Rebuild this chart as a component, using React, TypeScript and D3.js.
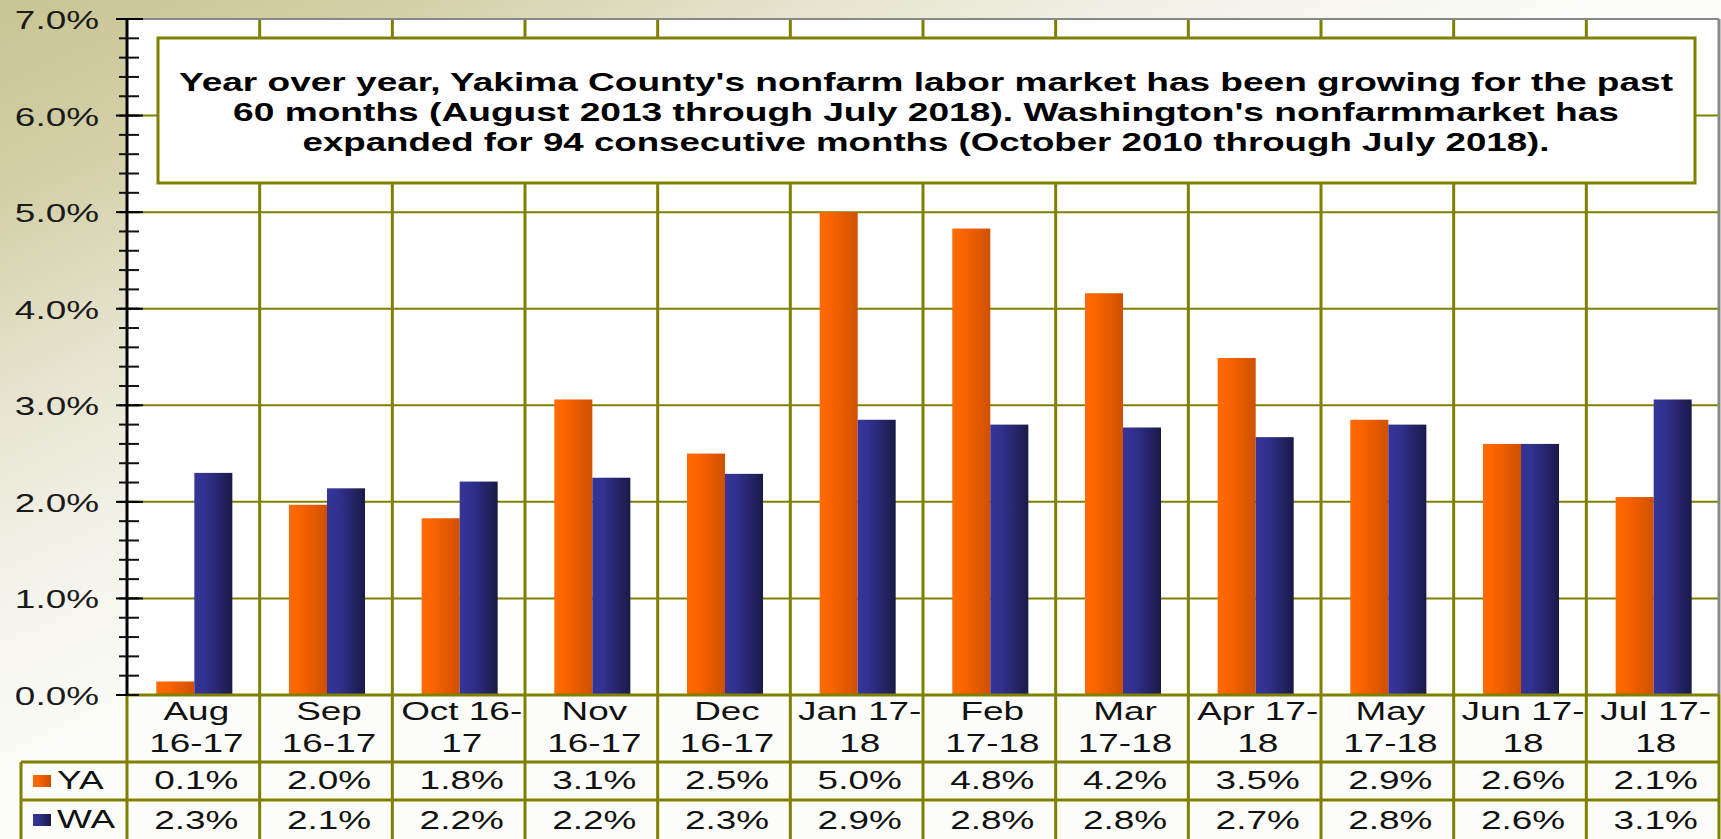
import React from 'react';
import * as d3 from 'd3';

const categories = ['Aug 16-17', 'Sep 16-17', 'Oct 16-17', 'Nov 16-17', 'Dec 16-17', 'Jan 17-18', 'Feb 17-18', 'Mar 17-18', 'Apr 17-18', 'May 17-18', 'Jun 17-18', 'Jul 17-18'];
const categoryLines = [['Aug', '16-17'], ['Sep', '16-17'], ['Oct 16-', '17'], ['Nov', '16-17'], ['Dec', '16-17'], ['Jan 17-', '18'], ['Feb', '17-18'], ['Mar', '17-18'], ['Apr 17-', '18'], ['May', '17-18'], ['Jun 17-', '18'], ['Jul 17-', '18']];
const seriesNames = ['YA', 'WA'];
const yaValues = [0.14, 1.97, 1.83, 3.06, 2.5, 5.0, 4.83, 4.16, 3.49, 2.85, 2.6, 2.05];
const waValues = [2.3, 2.14, 2.21, 2.25, 2.29, 2.85, 2.8, 2.77, 2.67, 2.8, 2.6, 3.06];
const yaLabels = ['0.1%', '2.0%', '1.8%', '3.1%', '2.5%', '5.0%', '4.8%', '4.2%', '3.5%', '2.9%', '2.6%', '2.1%'];
const waLabels = ['2.3%', '2.1%', '2.2%', '2.2%', '2.3%', '2.9%', '2.8%', '2.8%', '2.7%', '2.8%', '2.6%', '3.1%'];
const yTicks = [0, 1, 2, 3, 4, 5, 6, 7];
const titleLines = [
  "Year over year, Yakima County's nonfarm labor market has been growing for the past",
  "60 months (August 2013 through July 2018). Washington's nonfarmmarket has",
  'expanded for 94 consecutive months (October 2010 through July 2018).',
];
const titleWidths = [1494, 1386, 1247];

const W = 1721;
const H = 839;
const PL = 127;
const PR = 1719;
const PT = 19;
const PB = 695;
const ROW1 = 762;
const ROW2 = 800;
const SX = 1.42;
const FONT = "Arial, 'Liberation Sans', sans-serif";
const OLIVE = '#808000';

const T = ({ x, y, anchor = 'middle', children, size = 26, fill = '#111' }: any) => (
  <text transform={`translate(${x},${y}) scale(${SX},1)`} textAnchor={anchor} fontSize={size} fontFamily={FONT} fill={fill}>
    {children}
  </text>
);

export default function App() {
  const x = d3.scaleBand<string>().domain(categories).range([PL, PR]).paddingInner(0).paddingOuter(0);
  const xs = d3.scaleBand<string>().domain(seriesNames).range([0, x.bandwidth()]).paddingInner(0).paddingOuter(0.745);
  const y = d3.scaleLinear().domain([0, 7]).range([PB, PT]);
  const minor = d3.range(0, 7.0001, 0.2);
  const bounds = d3.range(categories.length + 1).map((i) => PL + i * x.step());
  const series = [
    { name: 'YA', values: yaValues, labels: yaLabels, grad: 'url(#gOrange)' },
    { name: 'WA', values: waValues, labels: waLabels, grad: 'url(#gNavy)' },
  ];

  return (
    <svg width={W} height={H} style={{ position: 'absolute', left: 0, top: 0 }}>
      <defs>
        <linearGradient id="gBg" x1="0" y1="0" x2="1" y2="1">
          <stop offset="0" stopColor="#c8c493" />
          <stop offset="0.12" stopColor="#d3d0a8" />
          <stop offset="0.24" stopColor="#e6e4cf" />
          <stop offset="0.36" stopColor="#f4f3eb" />
          <stop offset="0.46" stopColor="#fbfbf7" />
          <stop offset="1" stopColor="#ffffff" />
        </linearGradient>
        <linearGradient id="gOrange" x1="0" y1="0" x2="1" y2="0">
          <stop offset="0" stopColor="#ff6a00" />
          <stop offset="0.25" stopColor="#fc6500" />
          <stop offset="1" stopColor="#cf5000" />
        </linearGradient>
        <linearGradient id="gNavy" x1="0" y1="0" x2="1" y2="0">
          <stop offset="0" stopColor="#353599" />
          <stop offset="0.3" stopColor="#31318f" />
          <stop offset="1" stopColor="#1a1a48" />
        </linearGradient>
      </defs>

      <rect x={0} y={0} width={W} height={H} fill="url(#gBg)" />
      <rect x={PL} y={PT} width={PR - PL} height={PB - PT} fill="#ffffff" />
      <rect x={PL} y={PB} width={PR - PL} height={H - PB} fill="#fcfcf8" />
      <rect x={21} y={ROW1} width={PL - 21} height={H - ROW1} fill="#fcfcf8" />

      {/* horizontal gridlines */}
      {yTicks.filter((t) => t > 0 && t < 7).map((t) => (
        <line key={'h' + t} x1={PL} x2={PR} y1={y(t)} y2={y(t)} stroke={OLIVE} strokeWidth={2} />
      ))}
      {/* vertical gridlines */}
      {bounds.slice(1, -1).map((b, i) => (
        <line key={'v' + i} x1={b} x2={b} y1={PT} y2={H} stroke={OLIVE} strokeWidth={3} />
      ))}

      {/* plot border */}
      <line x1={PL} x2={PR} y1={PT} y2={PT} stroke="#888888" strokeWidth={2} />
      <line x1={PR} x2={PR} y1={PT} y2={PB} stroke="#888888" strokeWidth={3} />

      {/* title box */}
      <rect x={158} y={38} width={1695 - 158} height={183 - 38} fill="#ffffff" stroke={OLIVE} strokeWidth={3} />
      {titleLines.map((l, i) => (
        <text key={'t' + i} x={926} y={91 + i * 30} textAnchor="middle" fontFamily={FONT} fontWeight="bold" fontSize={26}
          textLength={titleWidths[i]} lengthAdjust="spacingAndGlyphs" fill="#000">
          {l}
        </text>
      ))}

      {/* bars */}
      {series.map((s) => (
        <g key={s.name}>
          {categories.map((c, i) => (
            <rect key={c} x={(x(c) as number) + (xs(s.name) as number) + 1} y={y(s.values[i])} width={xs.bandwidth()}
              height={PB - y(s.values[i])} fill={s.grad} />
          ))}
        </g>
      ))}

      {/* table lines */}
      <line x1={PL} x2={PR} y1={PB} y2={PB} stroke={OLIVE} strokeWidth={3} />
      <line x1={21} x2={PR} y1={ROW1} y2={ROW1} stroke={OLIVE} strokeWidth={3} />
      <line x1={21} x2={PR} y1={ROW2} y2={ROW2} stroke={OLIVE} strokeWidth={3} />
      <line x1={21} x2={21} y1={ROW1} y2={H} stroke={OLIVE} strokeWidth={3} />
      <line x1={PL} x2={PL} y1={PB} y2={H} stroke={OLIVE} strokeWidth={3} />
      <line x1={PR} x2={PR} y1={PB} y2={H} stroke={OLIVE} strokeWidth={3} />

      {/* y axis */}
      <line x1={PL} x2={PL} y1={PT} y2={PB} stroke="#000" strokeWidth={3} />
      {minor.map((t, i) => (
        <line key={'m' + i} x1={119} x2={139} y1={y(t)} y2={y(t)} stroke="#111" strokeWidth={2} />
      ))}
      {yTicks.map((t) => (
        <line key={'M' + t} x1={116} x2={t === 0 ? PL : 143} y1={y(t)} y2={y(t)} stroke="#000" strokeWidth={2} />
      ))}
      {yTicks.map((t) => (
        <T key={'yl' + t} x={99} y={y(t) + 10} anchor="end" fill="#1a1a1a">{d3.format('.1f')(t) + '%'}</T>
      ))}

      {/* category labels */}
      {categories.map((c, i) => (
        <g key={'cl' + c}>
          <T x={(x(c) as number) + x.bandwidth() / 2 + 3} y={720}>{categoryLines[i][0]}</T>
          <T x={(x(c) as number) + x.bandwidth() / 2 + 3} y={752}>{categoryLines[i][1]}</T>
        </g>
      ))}

      {/* legend keys and values */}
      <rect x={33} y={775} width={18} height={12} fill="url(#gOrange)" />
      <rect x={33} y={814} width={18} height={12} fill="url(#gNavy)" />
      <T x={57} y={789} anchor="start">{seriesNames[0]}</T>
      <T x={57} y={828} anchor="start">{seriesNames[1]}</T>
      {series.map((s, si) => (
        <g key={'vals' + s.name}>
          {categories.map((c, i) => (
            <T key={c} x={(x(c) as number) + x.bandwidth() / 2 + 3} y={si === 0 ? 789 : 829}>{s.labels[i]}</T>
          ))}
        </g>
      ))}
    </svg>
  );
}
